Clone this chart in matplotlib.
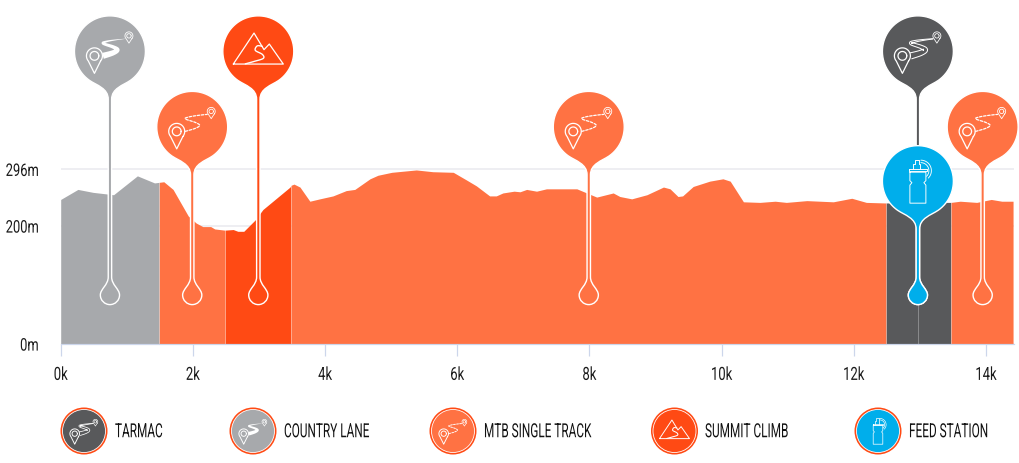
import numpy as np
import matplotlib
matplotlib.use('Agg')
import matplotlib.pyplot as plt
from matplotlib.path import Path
from matplotlib.patches import PathPatch
from matplotlib.patheffects import AbstractPathEffect
from matplotlib.transforms import Affine2D, IdentityTransform

FONT = 'Roboto'

# ---------- data ----------
km = [0.0, 0.26, 0.49, 0.80, 1.16, 1.42, 1.49, 1.56, 1.70, 1.93, 2.05, 2.15, 2.27, 2.33, 2.48, 2.49,
      2.61, 2.68, 2.77, 2.94, 3.06, 3.47, 3.485, 3.53, 3.62, 3.77, 3.92, 4.12, 4.32, 4.45, 4.68, 4.80,
      5.01, 5.38, 5.63, 5.94, 6.14, 6.29, 6.49, 6.59, 6.69, 6.86, 6.95, 7.05, 7.20, 7.35, 7.81, 7.96,
      8.11, 8.36, 8.46, 8.64, 8.87, 9.12, 9.22, 9.34, 9.41, 9.57, 9.82, 10.02, 10.13, 10.33, 10.58,
      10.81, 10.98, 11.29, 11.69, 11.97, 12.19, 12.49, 12.97, 13.47, 13.61, 13.86, 14.08, 14.24, 14.41]
elevation = [245, 262, 257, 253, 285, 273, 274, 275, 262, 217, 205, 199, 199, 195, 193, 193,
             194, 191, 191, 210, 228, 266, 269, 271, 266, 242, 246, 251, 260, 262, 280, 286,
             291, 295, 292, 291, 278, 268, 251, 251, 256, 259, 258, 262, 259, 263, 263, 256,
             249, 256, 250, 246, 253, 266, 263, 250, 251, 267, 276, 280, 276, 241, 240,
             242, 240, 243, 241, 247, 240, 239, 240, 240, 242, 240, 245, 242, 242]
seg_start = [0.0, 1.49, 2.49, 3.485, 12.49, 13.47]
seg_end = [1.49, 2.49, 3.485, 12.49, 13.47, 14.41]
seg_kind = ['lane', 'mtb', 'climb', 'mtb', 'tarmac', 'mtb']
pin_km = [0.745, 1.99, 2.99, 7.99, 12.97, 12.97, 13.95]
pin_kind = ['lane', 'mtb', 'climb', 'mtb', 'tarmac', 'feed', 'mtb']
pin_head_m = [496, 368, 496, 368, 496, 276, 368]
y_ticks = [0, 200, 296]
y_labels = ['0m', '200m', '296m']
x_ticks = [0, 2, 4, 6, 8, 10, 12, 14]
x_labels = ['0k', '2k', '4k', '6k', '8k', '10k', '12k', '14k']
legend_kind = ['tarmac', 'lane', 'mtb', 'climb', 'feed']
legend_labels = ['TARMAC', 'COUNTRY LANE', 'MTB SINGLE TRACK', 'SUMMIT CLIMB', 'FEED STATION']

COL = {'tarmac': '#58595B', 'lane': '#A7A9AC', 'mtb': '#FF7243', 'climb': '#FF4A14', 'feed': '#00AEEB'}
W, H = 1020, 464
PX = 72 / 100  # one pixel in points
LEFT = 60.7


class Tall(AbstractPathEffect):
    """Draw a text stretched vertically about its own middle, as a condensed face would look."""

    def __init__(self, sy, dy=0.0):
        super().__init__()
        self.sy, self.dy = sy, dy

    def draw_path(self, renderer, gc, tpath, affine, rgbFace=None):
        e = tpath.get_extents()
        m = e.y0 + .5 * e.height
        t = Affine2D().translate(0, -m).scale(1, self.sy).translate(0, m)
        renderer.draw_path(gc, tpath, t + affine + Affine2D().translate(0, self.dy), rgbFace)


fig = plt.figure(figsize=(W / 100, H / 100), dpi=100, facecolor='white')
ax = fig.add_axes([LEFT / W, 1 - 345 / H, (1014 - LEFT) / W, 345 / H])
ax.set_xlim(0, (1014 - LEFT) / 66.09)
ax.set_ylim(0, 345 / 0.59)
ax.patch.set_alpha(0)
for s in ax.spines.values():
    s.set_visible(False)
ax.spines['bottom'].set_visible(True)
ax.spines['bottom'].set_color('#CCD6EB')
ax.spines['bottom'].set_linewidth(1.2 * PX)
ax.set_xticks(x_ticks, x_labels)
ax.set_yticks(y_ticks, y_labels)
ax.tick_params(axis='x', length=12 * PX, width=1.2 * PX, color='#CCD6EB', pad=12 * PX, labelsize=9.4,
               labelcolor='#1A1A1A')
ax.tick_params(axis='y', length=0, pad=22 * PX, labelsize=9.3, labelcolor='#1A1A1A')
for t in ax.get_xticklabels():
    t.set_fontfamily(FONT)
    t.set_path_effects([Tall(1.39)])
for t in ax.get_yticklabels():
    t.set_fontfamily(FONT)
    t.set_path_effects([Tall(1.35)])
ax.set_axisbelow(True)
ax.grid(axis='y', color='#E9E9EE', lw=1.5 * PX)

xa = np.array(km)
ya = np.array(elevation)
for a, b, k in zip(seg_start, seg_end, seg_kind):
    m = (xa >= a) & (xa <= b)
    ax.fill_between(xa[m], 0, ya[m], color=COL[k], lw=0, zorder=2)
    if a > 0:
        ax.plot([a, a], [0, ya[np.argmin(abs(xa - a))]], color='white', alpha=.3, lw=.6, zorder=2.1)
ax.plot([pin_km[4], pin_km[4]], [0, 240], color='#8A8B8D', lw=.7, zorder=2.2)


# ---------- pin glyphs (local pixel coordinates, y up, origin at head centre) ----------
def pin_path(drop, r=35.5, hw=1.7, b=9.6):
    k = 0.5523
    a0 = np.deg2rad(-55)
    sx, sy = r * np.cos(a0), r * np.sin(a0)
    v = [(hw, -48.0), (hw, -37.0), (13.0, -34.0), (sx, sy)]
    code = [Path.MOVETO, Path.CURVE4, Path.CURVE4, Path.CURVE4]
    for t in np.deg2rad(np.linspace(-55, 235, 70))[1:]:
        v.append((r * np.cos(t), r * np.sin(t)))
        code.append(Path.LINETO)
    v += [(-13.0, -34.0), (-hw, -37.0), (-hw, -48.0), (-hw, -drop + 18)]
    code += [Path.CURVE4] * 3 + [Path.LINETO]
    v += [(-hw, -drop + 10), (-b, -drop + 6), (-b, -drop),
          (-b, -drop - k * b), (-k * b, -drop - b), (0, -drop - b),
          (k * b, -drop - b), (b, -drop - k * b), (b, -drop),
          (b, -drop + 6), (hw, -drop + 10), (hw, -drop + 18)]
    code += [Path.CURVE4] * 12
    v += [(hw, -48.0)]
    code += [Path.CLOSEPOLY]
    return Path(v, code)


def marker_path(cx, cy, s, tip):
    t = np.deg2rad(np.linspace(-40, 220, 30))
    pts = [(cx + s * np.cos(a), cy + s * np.sin(a)) for a in t]
    pts = pts + [(cx, cy - tip), pts[0]]
    c = np.deg2rad(np.linspace(0, 360, 24))
    return [pts, [(cx + .55 * s * np.cos(a), cy + .55 * s * np.sin(a)) for a in c]]


def add_lines(tr, lines, lw, zorder, ls='-', color='white'):
    for ln in lines:
        fig.add_artist(PathPatch(Path(np.array(ln)), fc='none', ec=color, lw=lw * PX, ls=ls, transform=tr,
                                 zorder=zorder, capstyle='round', joinstyle='round'))


ROUTE = [(-7, -4.5), (3, -1.5), (7.5, 1.5), (3, 4.5), (-7, 8), (-3, 10), (6, 11.5), (15, 12.5)]


def smooth(pts, n=10):
    pts = np.array(pts, float)
    out = []
    for i in range(len(pts) - 1):
        p0, p1, p2, p3 = pts[max(i - 1, 0)], pts[i], pts[i + 1], pts[min(i + 2, len(pts) - 1)]
        for t in np.linspace(0, 1, n, endpoint=False):
            out.append(.5 * (2 * p1 + (p2 - p0) * t + (2 * p0 - 5 * p1 + 4 * p2 - p3) * t ** 2
                             + (3 * p1 - p0 - 3 * p2 + p3) * t ** 3))
    out.append(pts[-1])
    return np.array(out)


def ribbon(r, w0):
    d = np.gradient(r, axis=0)
    d /= np.maximum(np.hypot(d[:, 0], d[:, 1]), 1e-6)[:, None]
    nrm = np.c_[-d[:, 1], d[:, 0]]
    w = w0 * (1 - np.linspace(0, 1, len(r))) ** 1.1 + .1
    return r + nrm * w[:, None], r - nrm * w[:, None]


def draw_icon(kind, tr, z, scale=1.0):
    lw = 1.25 * max(scale, .75)
    if kind in ('tarmac', 'lane', 'mtb'):
        add_lines(tr, marker_path(-15.5, -4.5, 8, 17.5), lw, z)
        add_lines(tr, marker_path(19, 15.5, 4, 7.3), lw * .65, z)
        r = smooth(ROUTE)
        if kind == 'mtb':
            add_lines(tr, [r], lw, z, ls=(0, (2.0, 1.3)))
        else:
            up, dn = ribbon(r, 3.0)
            if kind == 'lane':
                poly = np.r_[up, dn[::-1], up[:1]]
                fig.add_artist(PathPatch(Path(poly), fc='white', ec='none', transform=tr, zorder=z))
            else:
                add_lines(tr, [up, dn], lw * .8, z)
    elif kind == 'climb':
        add_lines(tr, [[(-25, -12.7), (-4.3, 18.3), (5.7, 1.7), (11, 7.3), (25, -12.7), (-25, -12.7)]], lw, z)
        add_lines(tr, [smooth([(-13, -12.5), (-4, -10), (5, -7), (4, -3), (-3, 1), (-1, 5.5), (4, 5)])],
                  lw * 1.1, z)
    else:
        add_lines(tr, [[(-8.7, 12.3), (8.7, 12.3), (8.7, 10.5), (-8.7, 10.5), (-8.7, 12.3)],
                       [(-8, 9), (8, 9), (8, 0.5), (6, -1.5), (8, -4), (8, -22), (-8, -22), (-8, -4),
                        (-6, -1.5), (-8, 0.5), (-8, 9)],
                       [(-4.5, 12.3), (-4.5, 17), (-3, 17), (-3, 21.5), (1, 21.5), (1, 17), (2, 17), (2, 12.3)]],
                  lw * .75, z)
        t = np.deg2rad(np.linspace(90, -45, 20))
        add_lines(tr, [[(3 + 10.5 * np.cos(a), 10.5 + 10.5 * np.sin(a)) for a in t],
                       [(3 + 8 * np.cos(a), 10.5 + 8 * np.sin(a)) for a in t]], lw * .7, z)


fig.canvas.draw()
BULB_PX = 296  # bulb centre height in image pixels
order = [0, 1, 2, 3, 6, 4, 5]
for n, i in enumerate(order):
    x_disp, y_disp = ax.transData.transform((pin_km[i], pin_head_m[i]))
    kind = pin_kind[i]
    drop = y_disp - (H - BULB_PX)
    tr = Affine2D().translate(x_disp, y_disp)
    z = 5 + n
    fig.add_artist(PathPatch(pin_path(drop), fc=COL[kind], ec='white', lw=1.4 * PX, transform=tr, zorder=z))
    draw_icon(kind, tr, z + .5)

# ---------- legend ----------
legend_x = [84, 253, 453, 674.5, 878]
legend_text_x = [115, 284, 484, 705, 909]
LY = H - 432
for xx, tx, k, lab in zip(legend_x, legend_text_x, legend_kind, legend_labels):
    fig.add_artist(plt.Circle((xx, LY), 23.5, fc='#FF4A14', ec='none', transform=IdentityTransform(), zorder=3))
    fig.add_artist(plt.Circle((xx, LY), 21.5, fc=COL[k], ec='white', lw=.8 * PX, transform=IdentityTransform(),
                              zorder=4))
    draw_icon(k, Affine2D().scale(.6).translate(xx, LY), 4.5, scale=.6)
    txt = fig.text(tx / W, LY / H, lab, fontsize=8.5, family=FONT, color='#111111', ha='left', va='center')
    txt.set_path_effects([Tall(1.647)])

fig.savefig('out.png', dpi=100, facecolor='white')
